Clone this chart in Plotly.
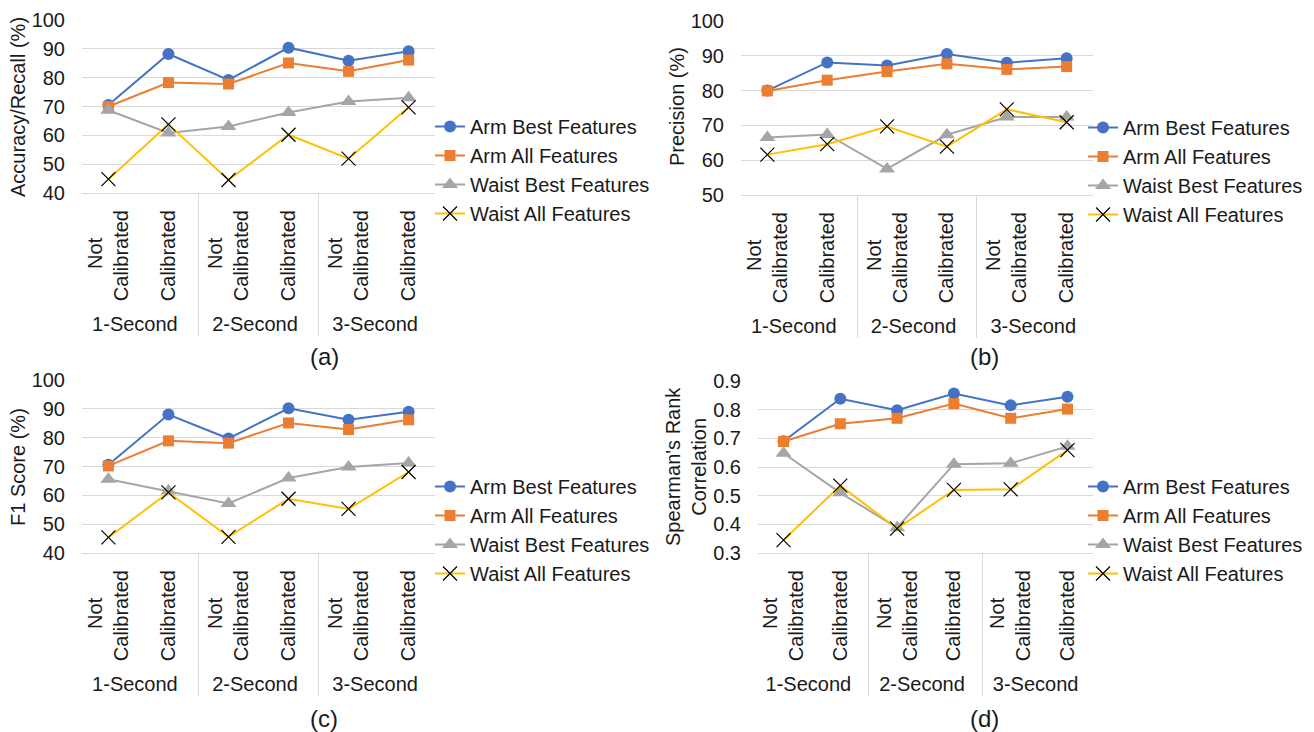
import plotly.graph_objects as go

NB = "\u00a0"
groups = ["1-Second", "1-Second", "2-Second", "2-Second", "3-Second", "3-Second"]
conditions = ["Not" + NB * 5 + "<br>Calibrated", "Calibrated",
              "Not" + NB * 5 + "<br>Calibrated", "Calibrated",
              "Not" + NB * 5 + "<br>Calibrated", "Calibrated"]
series_names = ["Arm Best Features", "Arm All Features", "Waist Best Features", "Waist All Features"]

# (a) Accuracy/Recall (%)
acc_arm_best = [70.5, 88.2, 79.2, 90.4, 85.9, 89.2]
acc_arm_all = [70.0, 78.3, 77.8, 85.1, 82.2, 86.1]
acc_waist_best = [68.7, 60.8, 63.1, 67.9, 71.7, 73.0]
acc_waist_all = [44.8, 63.8, 44.5, 60.2, 51.9, 69.7]

# (b) Precision (%)
prec_arm_best = [80.0, 88.1, 87.2, 90.5, 88.0, 89.3]
prec_arm_all = [79.9, 83.0, 85.5, 87.7, 86.1, 86.9]
prec_waist_best = [66.5, 67.4, 57.5, 67.3, 72.4, 72.4]
prec_waist_all = [61.6, 64.6, 69.7, 63.9, 74.6, 70.9]

# (c) F1 Score (%)
f1_arm_best = [70.6, 88.0, 79.7, 90.2, 86.2, 89.0]
f1_arm_all = [70.2, 78.9, 78.1, 85.1, 82.8, 86.2]
f1_waist_best = [65.6, 61.5, 57.2, 66.0, 69.8, 71.2]
f1_waist_all = [45.4, 61.0, 45.6, 58.8, 55.3, 68.1]

# (d) Spearman's Rank Correlation
sp_arm_best = [0.690, 0.838, 0.798, 0.856, 0.815, 0.845]
sp_arm_all = [0.689, 0.751, 0.770, 0.821, 0.770, 0.802]
sp_waist_best = [0.648, 0.510, 0.388, 0.610, 0.613, 0.672]
sp_waist_all = [0.345, 0.535, 0.385, 0.520, 0.522, 0.659]

W, H = 1314, 732
def px(x):
    return x / W
def py(y):
    return 1 - y / H

panels = [
    dict(data=[acc_arm_best, acc_arm_all, acc_waist_best, acc_waist_all], title="Accuracy/Recall (%)",
         yrange=[40, 100], dtick=10, fmt="", dx=[px(82), px(435)], dy=[py(193), py(20)],
         leg=(px(430), py(170)), label="(a)", lab=(px(324), py(357)), tt=(px(18), py(107))),
    dict(data=[prec_arm_best, prec_arm_all, prec_waist_best, prec_waist_all], title="Precision (%)",
         yrange=[50, 100], dtick=10, fmt="", dx=[px(741), px(1093)], dy=[py(195), py(21)],
         leg=(px(1083), py(171)), label="(b)", lab=(px(984), py(357)), tt=(px(677), py(107))),
    dict(data=[f1_arm_best, f1_arm_all, f1_waist_best, f1_waist_all], title="F1 Score (%)",
         yrange=[40, 100], dtick=10, fmt="", dx=[px(82), px(435)], dy=[py(553), py(380)],
         leg=(px(430), py(530)), label="(c)", lab=(px(324), py(718)), tt=(px(18), py(467))),
    dict(data=[sp_arm_best, sp_arm_all, sp_waist_best, sp_waist_all], title="Spearman's Rank<br>Correlation",
         yrange=[0.3, 0.9], dtick=0.1, fmt=".1f", dx=[px(758), px(1093)], dy=[py(553), py(381)],
         leg=(px(1083), py(530)), label="(d)", lab=(px(984), py(718)), tt=(px(686), py(467))),
]

colors = ["#4472C4", "#ED7D31", "#A5A5A5", "#FFC000"]
symbols = ["circle", "square", "triangle-up", "x-thin"]
sizes = [12, 11, 14, 14]

FONT = "Liberation Sans, Arial, sans-serif"
TXT = "#1a1a1a"
GRID = "#d9d9d9"
FS = 20

fig = go.Figure()
layout = dict(
    width=W, height=H, margin=dict(l=0, r=0, t=0, b=0, autoexpand=False),
    paper_bgcolor="white", plot_bgcolor="white",
    font=dict(family=FONT, size=FS, color=TXT),
    showlegend=True, annotations=[],
)

for i, p in enumerate(panels):
    n = "" if i == 0 else str(i + 1)
    leg = "legend" if i == 0 else f"legend{i+1}"
    for j in range(4):
        mk = dict(symbol=symbols[j], size=sizes[j], color=colors[j])
        if symbols[j] == "x-thin":
            mk["line"] = dict(color="#000000", width=1.2)
        fig.add_trace(go.Scatter(
            x=[groups, conditions], y=p["data"][j], name=series_names[j],
            mode="lines+markers", line=dict(color=colors[j], width=2), marker=mk,
            xaxis="x" + n, yaxis="y" + n, legend=leg, showlegend=True,
        ))
    layout["xaxis" + n] = dict(
        domain=p["dx"], anchor="y" + n, type="multicategory", tickangle=-90,
        showline=True, linecolor=GRID, linewidth=1, showgrid=False,
        showdividers=True, dividercolor=GRID, dividerwidth=1,
        tickfont=dict(size=FS, color=TXT), ticks="", ticklabelstandoff=8,
        automargin=False,
    )
    layout["yaxis" + n] = dict(
        domain=p["dy"], anchor="x" + n, range=p["yrange"], dtick=p["dtick"],
        tickformat=p["fmt"], showgrid=True, gridcolor=GRID, gridwidth=1,
        zeroline=False, showline=False, ticks="", ticklabelstandoff=16,
        tickfont=dict(size=FS, color=TXT), automargin=False,
    )
    layout[leg] = dict(
        x=p["leg"][0], y=p["leg"][1], xanchor="left", yanchor="middle",
        font=dict(size=FS, color=TXT), itemwidth=30, tracegroupgap=0,
        bgcolor="rgba(0,0,0,0)",
    )
    layout["annotations"].append(dict(
        text=p["title"], x=p["tt"][0], y=p["tt"][1], xref="paper", yref="paper",
        textangle=-90, showarrow=False, font=dict(size=FS, color=TXT),
        xanchor="center", yanchor="middle",
    ))
    layout["annotations"].append(dict(
        text=p["label"], x=p["lab"][0], y=p["lab"][1], xref="paper", yref="paper",
        showarrow=False, font=dict(size=24, color=TXT), xanchor="center", yanchor="middle",
    ))

fig.update_layout(**layout)
fig.write_html("out.html")
